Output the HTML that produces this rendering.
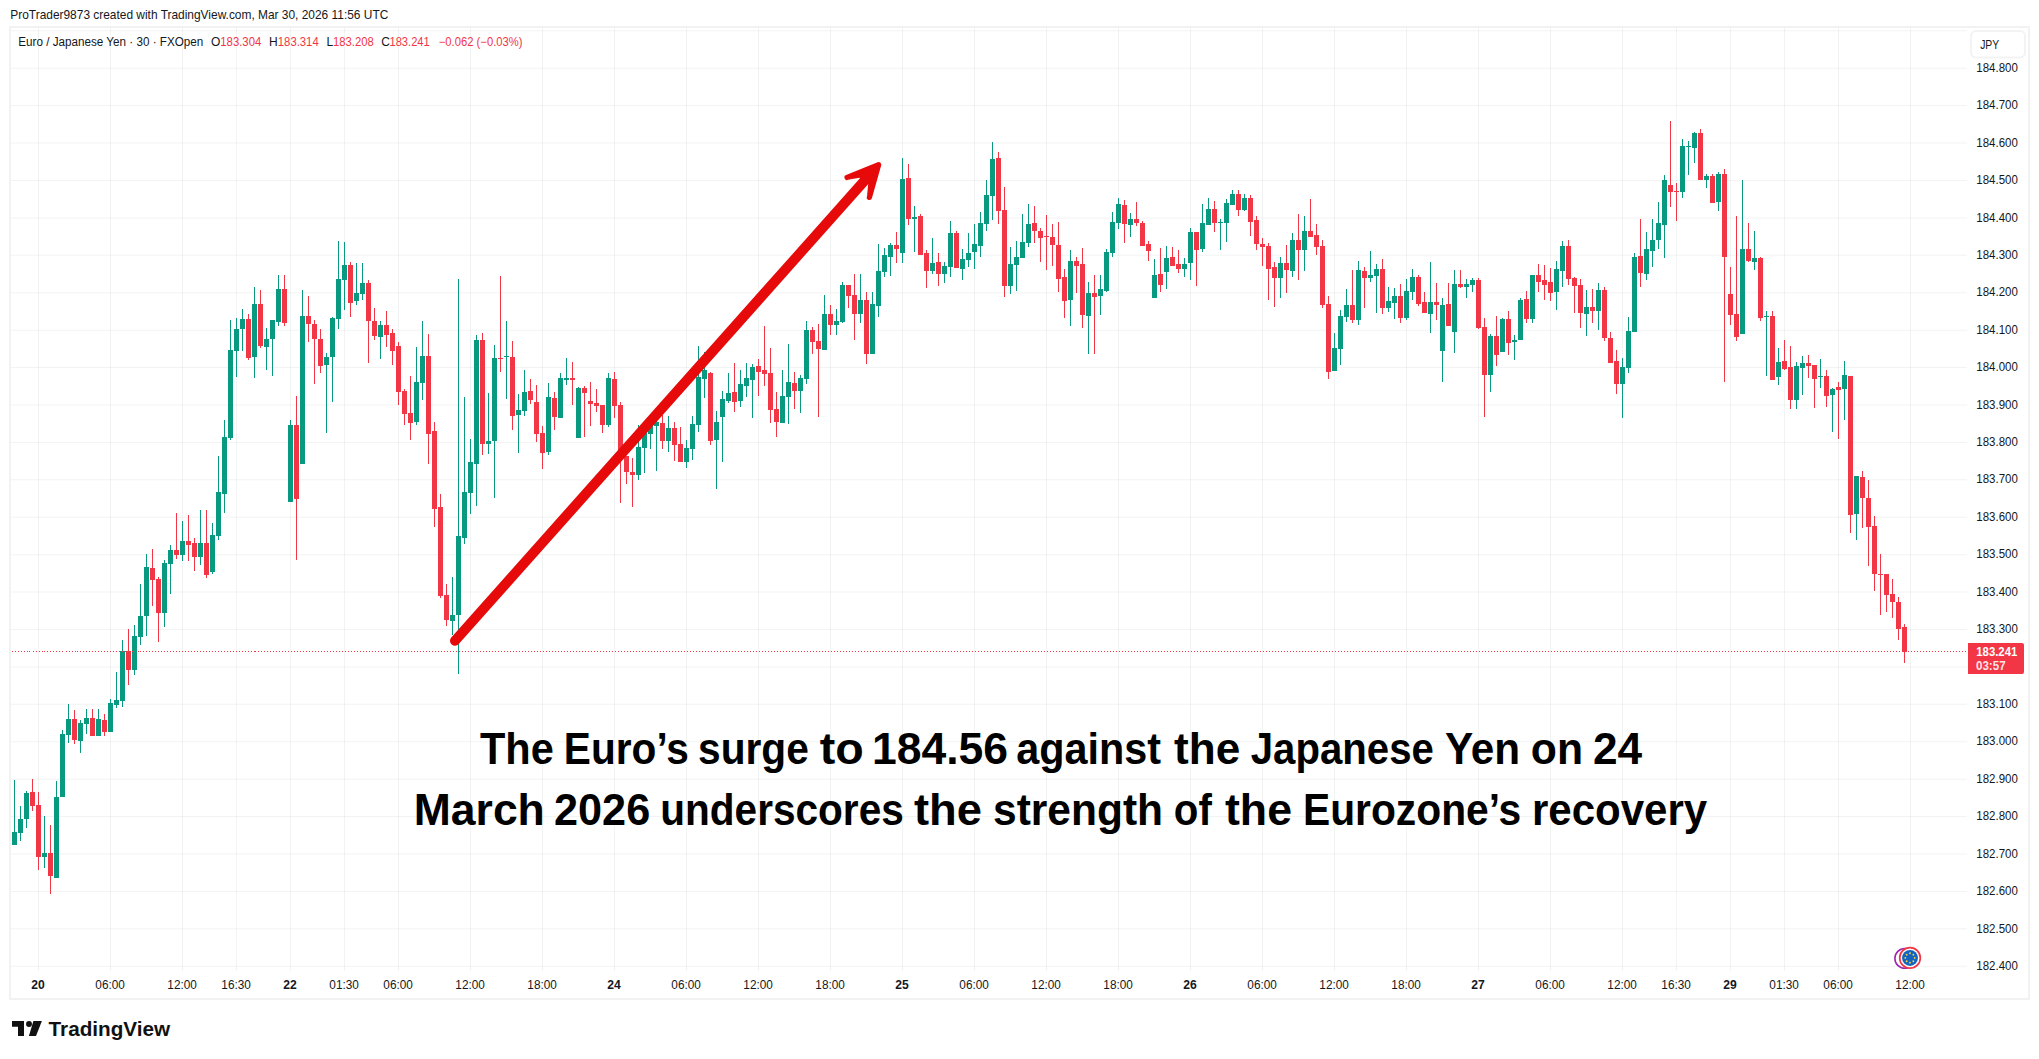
<!DOCTYPE html>
<html lang="en"><head><meta charset="utf-8"><title>EURJPY chart</title>
<style>
html,body{margin:0;padding:0;background:#fff}
body{width:2039px;height:1059px;overflow:hidden;position:relative;font-family:"Liberation Sans","DejaVu Sans",sans-serif}
svg{position:absolute;left:0;top:0;display:block}
text{font-family:"Liberation Sans","DejaVu Sans",sans-serif;fill:#131722}
.ax{font-size:12px}
.b{font-weight:bold}
.cap{font-weight:bold;fill:#000}
</style></head><body>
<svg width="2039" height="1059" viewBox="0 0 2039 1059">
<rect width="2039" height="1059" fill="#fff"/>
<text x="10.3" y="19" font-size="12.4" textLength="378" lengthAdjust="spacingAndGlyphs" fill="#1a1a1a">ProTrader9873 created with TradingView.com, Mar 30, 2026 11:56 UTC</text>
<rect x="10" y="27" width="2019" height="972" fill="#fff" stroke="#f2f2f3" stroke-width="2"/>
<g fill="#2a2e39" fill-opacity="0.06"><path d="M11 30.28h1956v1h-1956zM11 67.70h1956v1h-1956zM11 105.12h1956v1h-1956zM11 142.54h1956v1h-1956zM11 179.96h1956v1h-1956zM11 217.38h1956v1h-1956zM11 254.80h1956v1h-1956zM11 292.22h1956v1h-1956zM11 329.64h1956v1h-1956zM11 367.06h1956v1h-1956zM11 404.48h1956v1h-1956zM11 441.90h1956v1h-1956zM11 479.32h1956v1h-1956zM11 516.74h1956v1h-1956zM11 554.16h1956v1h-1956zM11 591.58h1956v1h-1956zM11 629.00h1956v1h-1956zM11 666.42h1956v1h-1956zM11 703.84h1956v1h-1956zM11 741.26h1956v1h-1956zM11 778.68h1956v1h-1956zM11 816.10h1956v1h-1956zM11 853.52h1956v1h-1956zM11 890.94h1956v1h-1956zM11 928.36h1956v1h-1956zM11 965.78h1956v1h-1956z"/><path d="M38 28h1v943h-1zM110 28h1v943h-1zM182 28h1v943h-1zM236 28h1v943h-1zM290 28h1v943h-1zM344 28h1v943h-1zM398 28h1v943h-1zM470 28h1v943h-1zM542 28h1v943h-1zM614 28h1v943h-1zM686 28h1v943h-1zM758 28h1v943h-1zM830 28h1v943h-1zM902 28h1v943h-1zM974 28h1v943h-1zM1046 28h1v943h-1zM1118 28h1v943h-1zM1190 28h1v943h-1zM1262 28h1v943h-1zM1334 28h1v943h-1zM1406 28h1v943h-1zM1478 28h1v943h-1zM1550 28h1v943h-1zM1622 28h1v943h-1zM1676 28h1v943h-1zM1730 28h1v943h-1zM1784 28h1v943h-1zM1838 28h1v943h-1zM1910 28h1v943h-1z" shape-rendering="crispEdges"/></g>

<text class="ax" x="1976.3" y="71.8" textLength="41.5" lengthAdjust="spacingAndGlyphs">184.800</text>
<text class="ax" x="1976.3" y="109.2" textLength="41.5" lengthAdjust="spacingAndGlyphs">184.700</text>
<text class="ax" x="1976.3" y="146.6" textLength="41.5" lengthAdjust="spacingAndGlyphs">184.600</text>
<text class="ax" x="1976.3" y="184.1" textLength="41.5" lengthAdjust="spacingAndGlyphs">184.500</text>
<text class="ax" x="1976.3" y="221.5" textLength="41.5" lengthAdjust="spacingAndGlyphs">184.400</text>
<text class="ax" x="1976.3" y="258.9" textLength="41.5" lengthAdjust="spacingAndGlyphs">184.300</text>
<text class="ax" x="1976.3" y="296.3" textLength="41.5" lengthAdjust="spacingAndGlyphs">184.200</text>
<text class="ax" x="1976.3" y="333.7" textLength="41.5" lengthAdjust="spacingAndGlyphs">184.100</text>
<text class="ax" x="1976.3" y="371.2" textLength="41.5" lengthAdjust="spacingAndGlyphs">184.000</text>
<text class="ax" x="1976.3" y="408.6" textLength="41.5" lengthAdjust="spacingAndGlyphs">183.900</text>
<text class="ax" x="1976.3" y="446.0" textLength="41.5" lengthAdjust="spacingAndGlyphs">183.800</text>
<text class="ax" x="1976.3" y="483.4" textLength="41.5" lengthAdjust="spacingAndGlyphs">183.700</text>
<text class="ax" x="1976.3" y="520.8" textLength="41.5" lengthAdjust="spacingAndGlyphs">183.600</text>
<text class="ax" x="1976.3" y="558.3" textLength="41.5" lengthAdjust="spacingAndGlyphs">183.500</text>
<text class="ax" x="1976.3" y="595.7" textLength="41.5" lengthAdjust="spacingAndGlyphs">183.400</text>
<text class="ax" x="1976.3" y="633.1" textLength="41.5" lengthAdjust="spacingAndGlyphs">183.300</text>
<text class="ax" x="1976.3" y="670.5" textLength="41.5" lengthAdjust="spacingAndGlyphs">183.200</text>
<text class="ax" x="1976.3" y="707.9" textLength="41.5" lengthAdjust="spacingAndGlyphs">183.100</text>
<text class="ax" x="1976.3" y="745.4" textLength="41.5" lengthAdjust="spacingAndGlyphs">183.000</text>
<text class="ax" x="1976.3" y="782.8" textLength="41.5" lengthAdjust="spacingAndGlyphs">182.900</text>
<text class="ax" x="1976.3" y="820.2" textLength="41.5" lengthAdjust="spacingAndGlyphs">182.800</text>
<text class="ax" x="1976.3" y="857.6" textLength="41.5" lengthAdjust="spacingAndGlyphs">182.700</text>
<text class="ax" x="1976.3" y="895.0" textLength="41.5" lengthAdjust="spacingAndGlyphs">182.600</text>
<text class="ax" x="1976.3" y="932.5" textLength="41.5" lengthAdjust="spacingAndGlyphs">182.500</text>
<text class="ax" x="1976.3" y="969.9" textLength="41.5" lengthAdjust="spacingAndGlyphs">182.400</text>
<text class="ax b" x="38.1" y="988.8" text-anchor="middle" textLength="13.5" lengthAdjust="spacingAndGlyphs">20</text>
<text class="ax" x="110.1" y="988.8" text-anchor="middle" textLength="29.5" lengthAdjust="spacingAndGlyphs">06:00</text>
<text class="ax" x="182.1" y="988.8" text-anchor="middle" textLength="29.5" lengthAdjust="spacingAndGlyphs">12:00</text>
<text class="ax" x="236.1" y="988.8" text-anchor="middle" textLength="29.5" lengthAdjust="spacingAndGlyphs">16:30</text>
<text class="ax b" x="290.1" y="988.8" text-anchor="middle" textLength="13.5" lengthAdjust="spacingAndGlyphs">22</text>
<text class="ax" x="344.1" y="988.8" text-anchor="middle" textLength="29.5" lengthAdjust="spacingAndGlyphs">01:30</text>
<text class="ax" x="398.1" y="988.8" text-anchor="middle" textLength="29.5" lengthAdjust="spacingAndGlyphs">06:00</text>
<text class="ax" x="470.1" y="988.8" text-anchor="middle" textLength="29.5" lengthAdjust="spacingAndGlyphs">12:00</text>
<text class="ax" x="542.1" y="988.8" text-anchor="middle" textLength="29.5" lengthAdjust="spacingAndGlyphs">18:00</text>
<text class="ax b" x="614.1" y="988.8" text-anchor="middle" textLength="13.5" lengthAdjust="spacingAndGlyphs">24</text>
<text class="ax" x="686.1" y="988.8" text-anchor="middle" textLength="29.5" lengthAdjust="spacingAndGlyphs">06:00</text>
<text class="ax" x="758.1" y="988.8" text-anchor="middle" textLength="29.5" lengthAdjust="spacingAndGlyphs">12:00</text>
<text class="ax" x="830.1" y="988.8" text-anchor="middle" textLength="29.5" lengthAdjust="spacingAndGlyphs">18:00</text>
<text class="ax b" x="902.1" y="988.8" text-anchor="middle" textLength="13.5" lengthAdjust="spacingAndGlyphs">25</text>
<text class="ax" x="974.1" y="988.8" text-anchor="middle" textLength="29.5" lengthAdjust="spacingAndGlyphs">06:00</text>
<text class="ax" x="1046.1" y="988.8" text-anchor="middle" textLength="29.5" lengthAdjust="spacingAndGlyphs">12:00</text>
<text class="ax" x="1118.1" y="988.8" text-anchor="middle" textLength="29.5" lengthAdjust="spacingAndGlyphs">18:00</text>
<text class="ax b" x="1190.1" y="988.8" text-anchor="middle" textLength="13.5" lengthAdjust="spacingAndGlyphs">26</text>
<text class="ax" x="1262.1" y="988.8" text-anchor="middle" textLength="29.5" lengthAdjust="spacingAndGlyphs">06:00</text>
<text class="ax" x="1334.1" y="988.8" text-anchor="middle" textLength="29.5" lengthAdjust="spacingAndGlyphs">12:00</text>
<text class="ax" x="1406.1" y="988.8" text-anchor="middle" textLength="29.5" lengthAdjust="spacingAndGlyphs">18:00</text>
<text class="ax b" x="1478.1" y="988.8" text-anchor="middle" textLength="13.5" lengthAdjust="spacingAndGlyphs">27</text>
<text class="ax" x="1550.1" y="988.8" text-anchor="middle" textLength="29.5" lengthAdjust="spacingAndGlyphs">06:00</text>
<text class="ax" x="1622.1" y="988.8" text-anchor="middle" textLength="29.5" lengthAdjust="spacingAndGlyphs">12:00</text>
<text class="ax" x="1676.1" y="988.8" text-anchor="middle" textLength="29.5" lengthAdjust="spacingAndGlyphs">16:30</text>
<text class="ax b" x="1730.1" y="988.8" text-anchor="middle" textLength="13.5" lengthAdjust="spacingAndGlyphs">29</text>
<text class="ax" x="1784.1" y="988.8" text-anchor="middle" textLength="29.5" lengthAdjust="spacingAndGlyphs">01:30</text>
<text class="ax" x="1838.1" y="988.8" text-anchor="middle" textLength="29.5" lengthAdjust="spacingAndGlyphs">06:00</text>
<text class="ax" x="1910.1" y="988.8" text-anchor="middle" textLength="29.5" lengthAdjust="spacingAndGlyphs">12:00</text>
<g shape-rendering="crispEdges"><path d="M12 832h5v13h-5zM14 780h1v65h-1zM18 819h5v14h-5zM20 806h1v35h-1zM24 793h5v26h-5zM26 791h1v37h-1zM42 853h5v4h-5zM44 816h1v52h-1zM54 797h5v81h-5zM56 781h1v97h-1zM60 734h5v63h-5zM62 730h1v67h-1zM66 719h5v16h-5zM68 704h1v39h-1zM78 723h5v18h-5zM80 720h1v33h-1zM84 718h5v6h-5zM86 709h1v25h-1zM96 719h5v17h-5zM98 709h1v27h-1zM108 703h5v29h-5zM110 699h1v33h-1zM114 700h5v5h-5zM116 672h1v36h-1zM120 651h5v50h-5zM122 640h1v67h-1zM132 636h5v34h-5zM134 625h1v50h-1zM138 616h5v21h-5zM140 584h1v61h-1zM144 567h5v49h-5zM146 554h1v82h-1zM162 563h5v50h-5zM164 560h1v67h-1zM168 550h5v14h-5zM170 545h1v49h-1zM180 541h5v14h-5zM182 521h1v40h-1zM198 543h5v14h-5zM200 510h1v55h-1zM210 535h5v37h-5zM212 523h1v51h-1zM216 492h5v44h-5zM218 456h1v84h-1zM222 437h5v57h-5zM224 420h1v93h-1zM228 350h5v88h-5zM230 320h1v120h-1zM234 329h5v22h-5zM236 318h1v59h-1zM240 319h5v10h-5zM242 309h1v42h-1zM252 304h5v53h-5zM254 287h1v91h-1zM264 339h5v8h-5zM266 328h1v42h-1zM270 320h5v19h-5zM272 320h1v56h-1zM276 289h5v33h-5zM278 275h1v51h-1zM288 425h5v77h-5zM290 420h1v82h-1zM300 316h5v148h-5zM302 290h1v174h-1zM324 357h5v8h-5zM326 353h1v80h-1zM330 318h5v39h-5zM332 317h1v85h-1zM336 279h5v40h-5zM338 241h1v88h-1zM342 265h5v15h-5zM344 242h1v68h-1zM354 293h5v8h-5zM356 263h1v42h-1zM360 283h5v11h-5zM362 263h1v37h-1zM378 325h5v12h-5zM380 321h1v38h-1zM414 382h5v40h-5zM416 347h1v78h-1zM420 356h5v27h-5zM422 321h1v79h-1zM450 615h5v6h-5zM452 577h1v58h-1zM456 536h5v79h-5zM458 279h1v395h-1zM462 492h5v46h-5zM464 397h1v147h-1zM468 462h5v31h-5zM470 439h1v75h-1zM474 340h5v124h-5zM476 335h1v171h-1zM486 441h5v3h-5zM488 393h1v61h-1zM492 358h5v83h-5zM494 345h1v153h-1zM504 356h5v1h-5zM506 321h1v78h-1zM516 410h5v5h-5zM518 394h1v59h-1zM522 392h5v19h-5zM524 370h1v46h-1zM546 397h5v55h-5zM548 383h1v72h-1zM558 378h5v40h-5zM560 373h1v45h-1zM564 378h5v2h-5zM566 358h1v27h-1zM576 388h5v50h-5zM578 387h1v51h-1zM606 378h5v47h-5zM608 373h1v54h-1zM636 447h5v28h-5zM638 425h1v55h-1zM642 432h5v16h-5zM644 430h1v43h-1zM648 425h5v9h-5zM650 420h1v29h-1zM654 422h5v4h-5zM656 415h1v56h-1zM666 428h5v13h-5zM668 416h1v36h-1zM684 448h5v14h-5zM686 440h1v28h-1zM690 424h5v25h-5zM692 416h1v44h-1zM696 377h5v48h-5zM698 346h1v86h-1zM702 370h5v9h-5zM704 352h1v46h-1zM714 422h5v18h-5zM716 411h1v78h-1zM720 399h5v18h-5zM722 391h1v71h-1zM726 393h5v8h-5zM728 373h1v30h-1zM738 384h5v17h-5zM740 370h1v37h-1zM744 378h5v8h-5zM746 363h1v34h-1zM750 367h5v13h-5zM752 364h1v54h-1zM780 396h5v27h-5zM782 370h1v53h-1zM786 382h5v15h-5zM788 344h1v80h-1zM798 378h5v13h-5zM800 375h1v38h-1zM804 330h5v49h-5zM806 321h1v63h-1zM822 314h5v36h-5zM824 295h1v55h-1zM834 321h5v4h-5zM836 309h1v26h-1zM840 285h5v37h-5zM842 282h1v41h-1zM858 300h5v14h-5zM860 274h1v49h-1zM870 304h5v50h-5zM872 292h1v62h-1zM876 271h5v35h-5zM878 244h1v73h-1zM882 255h5v17h-5zM884 248h1v29h-1zM888 245h5v12h-5zM890 243h1v33h-1zM900 179h5v74h-5zM902 158h1v105h-1zM912 217h5v2h-5zM914 206h1v46h-1zM930 263h5v8h-5zM932 238h1v36h-1zM942 266h5v8h-5zM944 262h1v21h-1zM948 233h5v34h-5zM950 221h1v56h-1zM960 259h5v10h-5zM962 249h1v31h-1zM966 253h5v7h-5zM968 233h1v34h-1zM972 244h5v8h-5zM974 224h1v45h-1zM978 223h5v23h-5zM980 212h1v45h-1zM984 195h5v29h-5zM986 180h1v51h-1zM990 159h5v37h-5zM992 142h1v78h-1zM1008 264h5v22h-5zM1010 247h1v47h-1zM1014 257h5v8h-5zM1016 241h1v50h-1zM1020 242h5v16h-5zM1022 214h1v44h-1zM1026 224h5v19h-5zM1028 204h1v43h-1zM1068 261h5v39h-5zM1070 250h1v76h-1zM1086 293h5v23h-5zM1088 282h1v72h-1zM1098 289h5v7h-5zM1100 275h1v40h-1zM1104 252h5v39h-5zM1106 249h1v43h-1zM1110 222h5v31h-5zM1112 212h1v45h-1zM1116 204h5v19h-5zM1118 198h1v31h-1zM1128 219h5v6h-5zM1130 213h1v24h-1zM1152 275h5v23h-5zM1154 259h1v39h-1zM1164 258h5v14h-5zM1166 246h1v43h-1zM1182 264h5v5h-5zM1184 258h1v19h-1zM1188 232h5v31h-5zM1190 228h1v52h-1zM1200 223h5v26h-5zM1202 204h1v48h-1zM1206 209h5v16h-5zM1208 198h1v27h-1zM1218 222h5v1h-5zM1220 219h1v31h-1zM1224 203h5v20h-5zM1226 199h1v43h-1zM1230 194h5v11h-5zM1232 190h1v15h-1zM1242 198h5v12h-5zM1244 194h1v17h-1zM1278 263h5v15h-5zM1280 257h1v41h-1zM1290 240h5v31h-5zM1292 233h1v44h-1zM1302 231h5v19h-5zM1304 216h1v55h-1zM1332 348h5v23h-5zM1334 333h1v38h-1zM1338 316h5v33h-5zM1340 310h1v55h-1zM1344 305h5v12h-5zM1346 289h1v33h-1zM1356 270h5v50h-5zM1358 261h1v64h-1zM1368 275h5v3h-5zM1370 251h1v31h-1zM1374 269h5v7h-5zM1376 264h1v49h-1zM1386 301h5v7h-5zM1388 287h1v25h-1zM1392 296h5v7h-5zM1394 288h1v31h-1zM1404 291h5v27h-5zM1406 279h1v41h-1zM1410 277h5v15h-5zM1412 269h1v31h-1zM1428 302h5v12h-5zM1430 262h1v71h-1zM1440 305h5v46h-5zM1442 298h1v84h-1zM1452 284h5v48h-5zM1454 270h1v83h-1zM1464 284h5v3h-5zM1466 279h1v19h-1zM1470 280h5v5h-5zM1472 278h1v14h-1zM1488 336h5v39h-5zM1490 334h1v58h-1zM1500 319h5v33h-5zM1502 318h1v34h-1zM1512 340h5v2h-5zM1514 335h1v25h-1zM1518 300h5v40h-5zM1520 298h1v42h-1zM1530 275h5v44h-5zM1532 275h1v48h-1zM1554 269h5v23h-5zM1556 261h1v49h-1zM1560 246h5v25h-5zM1562 241h1v46h-1zM1584 307h5v7h-5zM1586 290h1v46h-1zM1596 290h5v21h-5zM1598 283h1v47h-1zM1620 367h5v17h-5zM1622 358h1v60h-1zM1626 331h5v37h-5zM1628 317h1v56h-1zM1632 257h5v75h-5zM1634 253h1v79h-1zM1644 249h5v25h-5zM1646 232h1v48h-1zM1650 240h5v11h-5zM1652 219h1v48h-1zM1656 223h5v17h-5zM1658 202h1v47h-1zM1662 180h5v45h-5zM1664 175h1v83h-1zM1680 146h5v46h-5zM1682 139h1v59h-1zM1686 146h5v1h-5zM1688 141h1v34h-1zM1692 133h5v15h-5zM1694 132h1v31h-1zM1704 176h5v4h-5zM1706 174h1v14h-1zM1716 174h5v28h-5zM1718 172h1v39h-1zM1740 249h5v85h-5zM1742 180h1v154h-1zM1752 258h5v4h-5zM1754 231h1v39h-1zM1764 316h5v1h-5zM1766 311h1v65h-1zM1776 362h5v15h-5zM1778 348h1v37h-1zM1794 366h5v34h-5zM1796 362h1v47h-1zM1800 363h5v5h-5zM1802 356h1v39h-1zM1818 376h5v1h-5zM1820 359h1v29h-1zM1830 389h5v6h-5zM1832 388h1v44h-1zM1842 375h5v14h-5zM1844 361h1v59h-1zM1854 476h5v38h-5zM1856 476h1v64h-1z" fill="#089981"/><path d="M30 792h5v14h-5zM32 779h1v32h-1zM36 805h5v52h-5zM38 792h1v78h-1zM48 853h5v23h-5zM50 825h1v69h-1zM72 719h5v21h-5zM74 710h1v34h-1zM90 718h5v18h-5zM92 709h1v27h-1zM102 720h5v12h-5zM104 714h1v22h-1zM126 651h5v19h-5zM128 629h1v56h-1zM150 568h5v12h-5zM152 549h1v57h-1zM156 579h5v34h-5zM158 577h1v65h-1zM174 550h5v5h-5zM176 513h1v46h-1zM186 541h5v4h-5zM188 515h1v46h-1zM192 543h5v14h-5zM194 538h1v33h-1zM204 543h5v32h-5zM206 510h1v68h-1zM246 319h5v39h-5zM248 314h1v46h-1zM258 304h5v42h-5zM260 290h1v58h-1zM282 289h5v34h-5zM284 275h1v51h-1zM294 425h5v74h-5zM296 396h1v164h-1zM306 316h5v8h-5zM308 296h1v46h-1zM312 324h5v15h-5zM314 320h1v64h-1zM318 339h5v27h-5zM320 329h1v44h-1zM348 265h5v38h-5zM350 262h1v55h-1zM366 283h5v38h-5zM368 280h1v83h-1zM372 321h5v15h-5zM374 308h1v32h-1zM384 325h5v10h-5zM386 311h1v36h-1zM390 333h5v18h-5zM392 329h1v36h-1zM396 346h5v46h-5zM398 342h1v63h-1zM402 391h5v23h-5zM404 389h1v36h-1zM408 413h5v10h-5zM410 376h1v64h-1zM426 356h5v78h-5zM428 334h1v130h-1zM432 431h5v78h-5zM434 422h1v105h-1zM438 507h5v89h-5zM440 494h1v104h-1zM444 595h5v25h-5zM446 584h1v42h-1zM480 340h5v104h-5zM482 333h1v122h-1zM498 358h5v1h-5zM500 276h1v96h-1zM510 357h5v59h-5zM512 341h1v89h-1zM528 391h5v9h-5zM530 379h1v25h-1zM534 402h5v32h-5zM536 385h1v57h-1zM540 433h5v20h-5zM542 426h1v43h-1zM552 398h5v19h-5zM554 392h1v38h-1zM570 378h5v2h-5zM572 362h1v43h-1zM582 388h5v5h-5zM584 386h1v51h-1zM588 401h5v3h-5zM590 382h1v44h-1zM594 403h5v3h-5zM596 389h1v23h-1zM600 405h5v20h-5zM602 405h1v28h-1zM612 379h5v27h-5zM614 372h1v46h-1zM618 405h5v52h-5zM620 402h1v101h-1zM624 456h5v16h-5zM626 456h1v28h-1zM630 472h5v3h-5zM632 458h1v49h-1zM660 423h5v18h-5zM662 415h1v34h-1zM672 428h5v17h-5zM674 422h1v39h-1zM678 444h5v18h-5zM680 427h1v35h-1zM708 373h5v68h-5zM710 372h1v73h-1zM732 392h5v10h-5zM734 363h1v49h-1zM756 366h5v6h-5zM758 359h1v37h-1zM762 370h5v4h-5zM764 326h1v60h-1zM768 373h5v37h-5zM770 348h1v75h-1zM774 409h5v13h-5zM776 392h1v45h-1zM792 383h5v8h-5zM794 372h1v37h-1zM810 330h5v12h-5zM812 327h1v27h-1zM816 341h5v8h-5zM818 324h1v93h-1zM828 314h5v11h-5zM830 305h1v30h-1zM846 285h5v11h-5zM848 285h1v23h-1zM852 295h5v19h-5zM854 274h1v66h-1zM864 300h5v54h-5zM866 292h1v72h-1zM894 245h5v4h-5zM896 232h1v31h-1zM906 178h5v41h-5zM908 164h1v61h-1zM918 216h5v39h-5zM920 214h1v41h-1zM924 253h5v18h-5zM926 250h1v38h-1zM936 262h5v12h-5zM938 253h1v33h-1zM954 233h5v35h-5zM956 231h1v37h-1zM996 158h5v53h-5zM998 152h1v72h-1zM1002 210h5v76h-5zM1004 187h1v110h-1zM1032 223h5v8h-5zM1034 206h1v37h-1zM1038 231h5v7h-5zM1040 228h1v34h-1zM1044 236h5v1h-5zM1046 215h1v55h-1zM1050 237h5v8h-5zM1052 224h1v42h-1zM1056 245h5v34h-5zM1058 222h1v70h-1zM1062 277h5v24h-5zM1064 269h1v49h-1zM1074 261h5v5h-5zM1076 257h1v36h-1zM1080 264h5v51h-5zM1082 248h1v80h-1zM1092 293h5v4h-5zM1094 275h1v79h-1zM1122 205h5v19h-5zM1124 200h1v43h-1zM1134 219h5v4h-5zM1136 202h1v24h-1zM1140 223h5v23h-5zM1142 221h1v25h-1zM1146 244h5v7h-5zM1148 241h1v20h-1zM1158 274h5v11h-5zM1160 248h1v44h-1zM1170 257h5v9h-5zM1172 247h1v19h-1zM1176 264h5v5h-5zM1178 250h1v23h-1zM1194 232h5v18h-5zM1196 232h1v54h-1zM1212 209h5v14h-5zM1214 201h1v31h-1zM1236 194h5v16h-5zM1238 190h1v26h-1zM1248 198h5v24h-5zM1250 195h1v41h-1zM1254 220h5v24h-5zM1256 216h1v34h-1zM1260 244h5v3h-5zM1262 238h1v28h-1zM1266 246h5v23h-5zM1268 243h1v57h-1zM1272 267h5v11h-5zM1274 262h1v45h-1zM1284 263h5v7h-5zM1286 245h1v48h-1zM1296 240h5v10h-5zM1298 214h1v66h-1zM1308 231h5v6h-5zM1310 199h1v38h-1zM1314 235h5v12h-5zM1316 224h1v31h-1zM1320 246h5v59h-5zM1322 240h1v68h-1zM1326 304h5v68h-5zM1328 296h1v83h-1zM1350 305h5v15h-5zM1352 270h1v53h-1zM1362 271h5v7h-5zM1364 267h1v41h-1zM1380 269h5v39h-5zM1382 259h1v55h-1zM1398 296h5v22h-5zM1400 284h1v39h-1zM1416 277h5v27h-5zM1418 275h1v31h-1zM1422 302h5v11h-5zM1424 292h1v21h-1zM1434 302h5v3h-5zM1436 283h1v37h-1zM1446 304h5v22h-5zM1448 283h1v43h-1zM1458 284h5v3h-5zM1460 270h1v18h-1zM1476 280h5v48h-5zM1478 278h1v51h-1zM1482 327h5v48h-5zM1484 318h1v99h-1zM1494 336h5v19h-5zM1496 316h1v50h-1zM1506 319h5v24h-5zM1508 311h1v44h-1zM1524 299h5v20h-5zM1526 291h1v32h-1zM1536 275h5v7h-5zM1538 264h1v28h-1zM1542 280h5v5h-5zM1544 265h1v35h-1zM1548 282h5v11h-5zM1550 268h1v33h-1zM1566 246h5v33h-5zM1568 240h1v45h-1zM1572 278h5v8h-5zM1574 277h1v36h-1zM1578 285h5v28h-5zM1580 279h1v49h-1zM1590 307h5v4h-5zM1592 289h1v34h-1zM1602 290h5v48h-5zM1604 287h1v54h-1zM1608 338h5v25h-5zM1610 332h1v31h-1zM1614 361h5v23h-5zM1616 350h1v44h-1zM1638 256h5v17h-5zM1640 219h1v68h-1zM1668 185h5v7h-5zM1670 121h1v86h-1zM1674 191h5v1h-5zM1676 183h1v38h-1zM1698 133h5v47h-5zM1700 129h1v51h-1zM1710 176h5v27h-5zM1712 174h1v29h-1zM1722 174h5v83h-5zM1724 169h1v213h-1zM1728 294h5v21h-5zM1730 267h1v58h-1zM1734 314h5v23h-5zM1736 216h1v125h-1zM1746 249h5v12h-5zM1748 223h1v39h-1zM1758 258h5v60h-5zM1760 257h1v64h-1zM1770 316h5v64h-5zM1772 311h1v69h-1zM1782 361h5v8h-5zM1784 340h1v30h-1zM1788 367h5v33h-5zM1790 346h1v63h-1zM1806 363h5v3h-5zM1808 355h1v23h-1zM1812 365h5v14h-5zM1814 365h1v43h-1zM1824 376h5v20h-5zM1826 370h1v37h-1zM1836 387h5v3h-5zM1838 382h1v57h-1zM1848 376h5v139h-5zM1850 376h1v157h-1zM1860 477h5v21h-5zM1862 471h1v57h-1zM1866 498h5v29h-5zM1868 480h1v86h-1zM1872 526h5v48h-5zM1874 516h1v75h-1zM1878 574h5v1h-5zM1880 554h1v61h-1zM1884 574h5v21h-5zM1886 574h1v38h-1zM1890 594h5v8h-5zM1892 579h1v39h-1zM1896 602h5v27h-5zM1898 597h1v43h-1zM1902 627h5v25h-5zM1904 624h1v39h-1z" fill="#f23645"/></g>
<path d="M11.5 651.5H1967" stroke="#f23645" stroke-width="1" stroke-dasharray="1 2" shape-rendering="crispEdges" fill="none"/>
<text x="18.3" y="46" font-size="12" textLength="185" lengthAdjust="spacingAndGlyphs" style="fill:#131722">Euro / Japanese Yen · 30 · FXOpen</text>
<text x="211.0" y="46" font-size="12" style="fill:#131722">O</text>
<text x="220.3" y="46" font-size="12" textLength="41" lengthAdjust="spacingAndGlyphs" style="fill:#f23645">183.304</text>
<text x="268.9" y="46" font-size="12" style="fill:#131722">H</text>
<text x="277.8" y="46" font-size="12" textLength="40.9" lengthAdjust="spacingAndGlyphs" style="fill:#f23645">183.314</text>
<text x="326.5" y="46" font-size="12" style="fill:#131722">L</text>
<text x="333" y="46" font-size="12" textLength="40.8" lengthAdjust="spacingAndGlyphs" style="fill:#f23645">183.208</text>
<text x="381.2" y="46" font-size="12" style="fill:#131722">C</text>
<text x="389.5" y="46" font-size="12" textLength="40.2" lengthAdjust="spacingAndGlyphs" style="fill:#f23645">183.241</text>
<text x="438.8" y="46" font-size="12" textLength="83.7" lengthAdjust="spacingAndGlyphs" style="fill:#f23645">−0.062 (−0.03%)</text>
<g fill="none" stroke="#e60a0a" stroke-linecap="round" stroke-linejoin="round"><path stroke-width="10" d="M455 640.8L872.8 171.4"/><path stroke-width="5.3" d="M847.1 177.4L878.6 164.7L869.4 197.4"/><path d="M878.6 164.7L848 179.7L859.4 177.7L868.2 183.7L867 196.7z" fill="#e60a0a" stroke="none"/></g>
<text class="cap" y="764.2" font-size="44.1"><tspan x="480.0" textLength="73.8" lengthAdjust="spacingAndGlyphs">The</tspan> <tspan x="563.8" textLength="125.0" lengthAdjust="spacingAndGlyphs">Euro’s</tspan> <tspan x="698.0" textLength="110.8" lengthAdjust="spacingAndGlyphs">surge</tspan> <tspan x="819.8" textLength="44.0" lengthAdjust="spacingAndGlyphs">to</tspan> <tspan x="872.0" textLength="136.0" lengthAdjust="spacingAndGlyphs">184.56</tspan> <tspan x="1016.2" textLength="144.8" lengthAdjust="spacingAndGlyphs">against</tspan> <tspan x="1174.0" textLength="66.2" lengthAdjust="spacingAndGlyphs">the</tspan> <tspan x="1250.8" textLength="183.0" lengthAdjust="spacingAndGlyphs">Japanese</tspan> <tspan x="1445.0" textLength="75.2" lengthAdjust="spacingAndGlyphs">Yen</tspan> <tspan x="1530.8" textLength="52.2" lengthAdjust="spacingAndGlyphs">on</tspan> <tspan x="1593.0" textLength="49.2" lengthAdjust="spacingAndGlyphs">24</tspan></text>
<text class="cap" y="825.0" font-size="44.1"><tspan x="413.8" textLength="131.0" lengthAdjust="spacingAndGlyphs">March</tspan> <tspan x="554.0" textLength="96.2" lengthAdjust="spacingAndGlyphs">2026</tspan> <tspan x="660.2" textLength="243.6" lengthAdjust="spacingAndGlyphs">underscores</tspan> <tspan x="914.0" textLength="68.0" lengthAdjust="spacingAndGlyphs">the</tspan> <tspan x="993.0" textLength="170.0" lengthAdjust="spacingAndGlyphs">strength</tspan> <tspan x="1173.8" textLength="38.0" lengthAdjust="spacingAndGlyphs">of</tspan> <tspan x="1225.0" textLength="67.0" lengthAdjust="spacingAndGlyphs">the</tspan> <tspan x="1303.0" textLength="218.2" lengthAdjust="spacingAndGlyphs">Eurozone’s</tspan> <tspan x="1532.0" textLength="175.2" lengthAdjust="spacingAndGlyphs">recovery</tspan></text>
<rect x="1971" y="31" width="54" height="26.5" rx="5" fill="#fff" stroke="#f3f3f4" stroke-width="2"/>
<text class="ax" x="1980.2" y="48.8" textLength="19" lengthAdjust="spacingAndGlyphs">JPY</text>
<path d="M1968 643h54a2 2 0 0 1 2 2v27a2 2 0 0 1 -2 2h-54z" fill="#f23645"/>
<text x="1976.3" y="655.9" font-size="12" font-weight="bold" style="fill:#fff" textLength="41" lengthAdjust="spacingAndGlyphs">183.241</text>
<text x="1976" y="670.2" font-size="12" font-weight="bold" style="fill:#fff;fill-opacity:.88" textLength="29.6" lengthAdjust="spacingAndGlyphs">03:57</text>
<g><circle cx="1904.8" cy="958.4" r="9.9" fill="#fff" stroke="#9c27b0" stroke-width="1.6"/>
<circle cx="1910" cy="957.9" r="10.3" fill="#fff" stroke="#f23645" stroke-width="1.7"/>
<circle cx="1910" cy="957.95" r="7.95" fill="#1565c0"/>
<circle cx="1910.00" cy="953.25" r="0.9" fill="#fdd835"/>
<circle cx="1913.32" cy="954.63" r="0.9" fill="#fdd835"/>
<circle cx="1914.70" cy="957.95" r="0.9" fill="#fdd835"/>
<circle cx="1913.32" cy="961.27" r="0.9" fill="#fdd835"/>
<circle cx="1910.00" cy="962.65" r="0.9" fill="#fdd835"/>
<circle cx="1906.68" cy="961.27" r="0.9" fill="#fdd835"/>
<circle cx="1905.30" cy="957.95" r="0.9" fill="#fdd835"/>
<circle cx="1906.68" cy="954.63" r="0.9" fill="#fdd835"/>
</g>
<g fill="#111"><path d="M12 1021h12v15h-6v-9.2H12z"/><circle cx="29" cy="1024" r="2.95"/><path d="M33.4 1021h8.5l-5.9 15h-7.1z"/></g>
<text x="48.6" y="1035.9" font-size="21" font-weight="bold" textLength="121.5" lengthAdjust="spacingAndGlyphs" style="fill:#111">TradingView</text>
</svg></body></html>
